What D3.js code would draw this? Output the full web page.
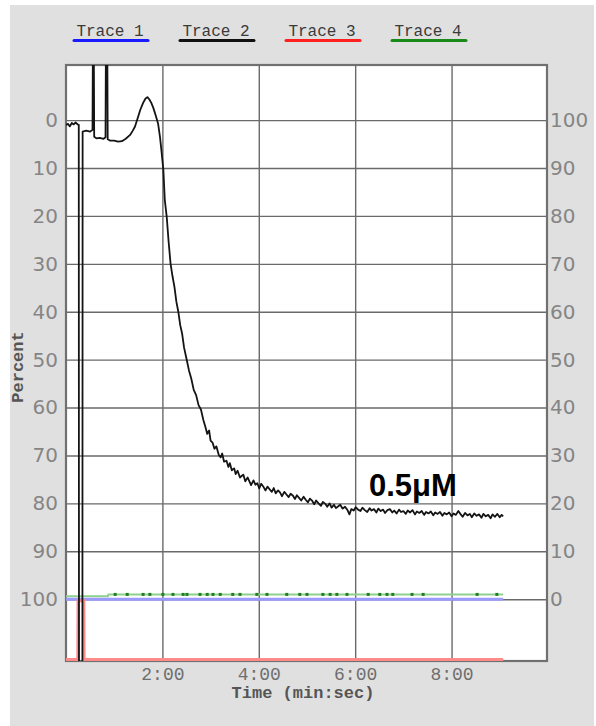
<!DOCTYPE html>
<html>
<head>
<meta charset="utf-8">
<script src="https://cdn.jsdelivr.net/npm/d3@7"></script>
<style>
  body { margin: 0; background: #fff; }
</style>
</head>
<body>
<script>
// ---- data ----
var traceNames = ["Trace 1", "Trace 2", "Trace 3", "Trace 4"];
var traceColors = ["#1a1aff", "#111111", "#ff2020", "#1a8a1a"];

var leftTicks = [0, 10, 20, 30, 40, 50, 60, 70, 80, 90, 100];
var timeTicks = [2, 4, 6, 8];
var timeLabels = ["2:00", "4:00", "6:00", "8:00"];

// trace 1 (blue) flat at 100
var trace1 = [[0, 100], [9.07, 100]];

// trace 2 (black) [minutes, percent]
var trace2 = [
  [0.00, 1.0], [0.04, 0.8], [0.08, 1.3], [0.12, 0.6], [0.16, 0.9], [0.20, 0.5], [0.24, 0.9],
  [0.265, 1.0], [0.27, 125], [0.34, 125], [0.345, 2.4], [0.42, 2.2], [0.50, 2.4], [0.55, 2.0],
  [0.56, -20], [0.575, -20], [0.585, 3.5], [0.63, 3.8], [0.70, 3.7], [0.78, 3.9], [0.82, 3.6],
  [0.83, -20], [0.855, -20], [0.865, 4.0], [0.92, 4.3], [1.00, 4.3], [1.08, 4.5], [1.16, 4.4],
  [1.24, 3.9], [1.33, 3.1], [1.38, 2.3], [1.43, 1.4], [1.49, -0.5], [1.54, -2.1], [1.60, -3.6],
  [1.65, -4.5], [1.69, -4.8], [1.73, -4.3], [1.77, -3.6], [1.81, -2.6], [1.86, -1.0], [1.91, 0.7],
  [1.95, 3.5], [1.98, 6.3], [2.02, 10.4], [2.05, 16.7], [2.09, 20.2], [2.13, 25.5], [2.17, 30.0],
  [2.21, 32.6], [2.25, 34.8], [2.29, 37.9], [2.33, 40.0], [2.37, 42.8], [2.41, 44.6], [2.45, 47.5],
  [2.50, 49.8], [2.55, 52.2], [2.60, 54.0], [2.65, 56.3], [2.70, 57.4], [2.75, 59.5], [2.80, 60.4],
  [2.85, 62.6], [2.90, 64.3], [2.93, 65.5], [2.97, 64.8], [3.00, 66.9], [3.04, 67.3], [3.08, 68.6],
  [3.12, 68.1], [3.17, 69.9], [3.21, 70.4], [3.24, 69.6], [3.28, 71.3], [3.33, 71.1], [3.37, 72.4],
  [3.40, 71.6], [3.44, 73.1], [3.49, 72.7], [3.52, 73.9], [3.56, 73.2], [3.61, 74.6], [3.64, 74.3],
  [3.68, 74.0], [3.72, 75.4], [3.77, 74.6], [3.81, 75.5], [3.84, 76.2], [3.89, 75.2], [3.93, 76.1],
  [3.97, 75.8], [4.01, 76.9], [4.05, 75.9], [4.10, 76.6], [4.14, 77.3], [4.18, 76.5], [4.22, 77.0],
  [4.27, 77.6], [4.31, 76.8], [4.35, 77.9], [4.40, 77.3], [4.44, 77.7], [4.48, 78.5], [4.53, 77.6],
  [4.57, 78.1], [4.62, 78.7], [4.66, 78.0], [4.71, 78.4], [4.75, 79.1], [4.79, 78.3], [4.84, 78.9],
  [4.88, 79.4], [4.93, 78.6], [4.97, 79.2], [5.02, 79.8], [5.06, 79.0], [5.11, 79.5], [5.15, 80.2],
  [5.19, 79.4], [5.24, 80.0], [5.29, 80.5], [5.33, 79.7], [5.38, 80.1], [5.42, 80.7], [5.47, 80.0],
  [5.51, 80.9], [5.56, 80.3], [5.60, 81.0], [5.65, 80.6], [5.69, 80.3], [5.74, 81.1], [5.79, 80.7],
  [5.84, 81.4], [5.88, 82.3], [5.92, 81.2], [5.97, 81.5], [6.01, 80.8], [6.06, 81.3], [6.11, 81.6],
  [6.15, 80.9], [6.20, 81.4], [6.25, 81.8], [6.30, 81.0], [6.34, 81.5], [6.39, 81.2], [6.44, 81.9],
  [6.48, 81.1], [6.53, 81.6], [6.58, 81.3], [6.62, 82.0], [6.67, 81.4], [6.72, 81.2], [6.77, 81.9],
  [6.81, 81.5], [6.86, 82.1], [6.91, 81.3], [6.95, 81.8], [7.00, 81.6], [7.05, 82.2], [7.09, 81.5],
  [7.14, 81.9], [7.19, 81.4], [7.24, 82.3], [7.28, 81.7], [7.33, 82.0], [7.38, 81.6], [7.43, 82.4],
  [7.47, 81.8], [7.52, 82.1], [7.57, 81.7], [7.62, 82.5], [7.66, 81.9], [7.71, 82.2], [7.76, 81.8],
  [7.81, 82.6], [7.85, 82.0], [7.90, 82.3], [7.95, 81.9], [8.00, 82.7], [8.04, 82.1], [8.09, 82.4],
  [8.14, 81.6], [8.19, 82.3], [8.23, 82.8], [8.28, 82.0], [8.33, 82.5], [8.38, 82.2], [8.42, 82.9],
  [8.47, 82.1], [8.52, 82.6], [8.57, 82.3], [8.62, 83.0], [8.66, 82.2], [8.71, 82.7], [8.76, 82.4],
  [8.81, 83.1], [8.85, 82.3], [8.90, 82.8], [8.95, 82.2], [9.00, 82.9], [9.04, 82.4], [9.07, 82.7]
];

// trace 3 (red) sits at the floor with one pulse up to 100
var trace3 = [[0, 112.6], [0.245, 112.6], [0.25, 100.3], [0.37, 100.3], [0.375, 112.6], [9.07, 112.6]];

// trace 4 (green) just above 100, plus its darker dots
var trace4 = [[0, 99.4], [0.87, 99.4], [0.88, 99.0], [9.07, 99.0]];
var trace4Dots = [1.02, 1.27, 1.60, 1.74, 2.01, 2.22, 2.43, 2.51, 2.78, 2.93, 3.05, 3.20, 3.46,
  3.61, 3.96, 4.17, 4.58, 4.85, 5.00, 5.33, 5.48, 5.62, 5.83, 6.27, 6.51, 6.66, 6.78, 7.18,
  7.41, 8.53, 8.94];

var annotation = "0.5\u03bcM";

// ---- layout ----
var W = 596, H = 726;
var plot = {left: 66, top: 65, right: 547, bottom: 661};

var svg = d3.select("body").append("svg")
  .attr("width", W)
  .attr("height", H);

// grey panel
svg.append("rect")
  .attr("x", 10).attr("y", 5)
  .attr("width", 584).attr("height", H - 5)
  .attr("fill", "#e0e0e0");

var x = d3.scaleLinear().domain([0, 9.98]).range([plot.left, plot.right]);
var y = d3.scaleLinear().domain([-11.5, 112.9]).range([plot.top, plot.bottom]);

// white plot area
svg.append("rect")
  .attr("x", plot.left).attr("y", plot.top)
  .attr("width", plot.right - plot.left).attr("height", plot.bottom - plot.top)
  .attr("fill", "#fff");

// left axis with horizontal grid
var leftAxis = svg.append("g")
  .attr("transform", "translate(" + plot.left + ",0)")
  .call(d3.axisLeft(y).tickValues(leftTicks).tickSize(-(plot.right - plot.left)).tickPadding(8).tickFormat(d3.format("d")));

// right axis, labels count down from 100
var rightAxis = svg.append("g")
  .attr("transform", "translate(" + plot.right + ",0)")
  .call(d3.axisRight(y).tickValues(leftTicks).tickSize(0).tickPadding(3).tickFormat(function(d) { return 100 - d; }));

// bottom axis with vertical grid
var bottomAxis = svg.append("g")
  .attr("transform", "translate(0," + plot.bottom + ")")
  .call(d3.axisBottom(x).tickValues(timeTicks).tickSize(-(plot.bottom - plot.top)).tickPadding(6)
    .tickFormat(function(d, i) { return timeLabels[i]; }));

[leftAxis, rightAxis, bottomAxis].forEach(function(a) {
  a.select(".domain").remove();
  a.selectAll(".tick line").attr("stroke", "#6a6a6a").attr("stroke-width", 1.4);
});
leftAxis.selectAll(".tick text").attr("font-family", "DejaVu Sans").attr("font-size", 20).attr("fill", "#858585");
rightAxis.selectAll(".tick text").attr("font-family", "DejaVu Sans").attr("font-size", 20).attr("fill", "#858585");
bottomAxis.selectAll(".tick text").attr("font-family", "Liberation Mono").attr("font-size", 18).attr("fill", "#6e6e6e");

// frame
svg.append("rect")
  .attr("x", plot.left).attr("y", plot.top)
  .attr("width", plot.right - plot.left).attr("height", plot.bottom - plot.top)
  .attr("fill", "none")
  .attr("stroke", "#707070")
  .attr("stroke-width", 2.2);

// traces
svg.append("clipPath").attr("id", "clip")
  .append("rect")
  .attr("x", plot.left).attr("y", plot.top)
  .attr("width", plot.right - plot.left).attr("height", plot.bottom - plot.top);

var traces = svg.append("g").attr("clip-path", "url(#clip)");
var line = d3.line().x(function(d) { return x(d[0]); }).y(function(d) { return y(d[1]); });

traces.append("path").datum(trace4)
  .attr("d", line).attr("fill", "none")
  .attr("stroke", "#8fd08f").attr("stroke-width", 2);

traces.selectAll(".dot4").data(trace4Dots).enter().append("rect")
  .attr("class", "dot4")
  .attr("x", function(d) { return x(d) - 1.5; })
  .attr("y", y(99.0) - 1.5)
  .attr("width", 3).attr("height", 3)
  .attr("fill", "#1f7f1f");

traces.append("path").datum(trace1)
  .attr("d", line).attr("fill", "none")
  .attr("stroke", "#9a9aff").attr("stroke-width", 3);

traces.append("path").datum(trace3)
  .attr("d", line).attr("fill", "none")
  .attr("stroke", "#ff8a8a").attr("stroke-width", 3);

traces.append("path").datum(trace2)
  .attr("d", line).attr("fill", "none")
  .attr("stroke", "#141414").attr("stroke-width", 1.8)
  .attr("stroke-linejoin", "round");

// legend
var legendX = d3.scalePoint().domain(traceNames).range([110, 428]);
var legend = svg.selectAll(".legend").data(traceNames).enter().append("g")
  .attr("class", "legend")
  .attr("transform", function(d) { return "translate(" + legendX(d) + ",0)"; });

legend.append("text")
  .attr("y", 36)
  .attr("text-anchor", "middle")
  .attr("font-family", "Liberation Mono")
  .attr("font-size", 16)
  .attr("fill", "#3a3a3a")
  .text(function(d) { return d; });

legend.append("line")
  .attr("x1", -36).attr("x2", 38)
  .attr("y1", 40.5).attr("y2", 40.5)
  .attr("stroke", function(d, i) { return traceColors[i]; })
  .attr("stroke-width", 3)
  .attr("stroke-linecap", "round");

// axis titles
svg.append("text")
  .attr("x", 303).attr("y", 698)
  .attr("text-anchor", "middle")
  .attr("font-family", "Liberation Mono")
  .attr("font-weight", "bold")
  .attr("font-size", 17)
  .attr("fill", "#555")
  .text("Time (min:sec)");

svg.append("text")
  .attr("transform", "translate(23,367) rotate(-90)")
  .attr("text-anchor", "middle")
  .attr("font-family", "Liberation Mono")
  .attr("font-weight", "bold")
  .attr("font-size", 17)
  .attr("fill", "#555")
  .text("Percent");

// concentration label
svg.append("text")
  .attr("x", 369).attr("y", 496)
  .attr("font-family", "Liberation Sans, Arial, sans-serif")
  .attr("font-weight", "bold")
  .attr("font-size", 31)
  .attr("fill", "#000")
  .text(annotation);
</script>
</body>
</html>
